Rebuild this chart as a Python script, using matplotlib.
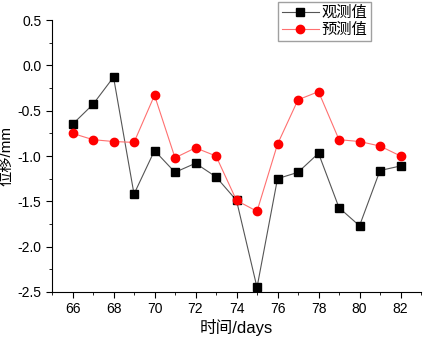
import matplotlib.pyplot as plt
from matplotlib.ticker import MultipleLocator

plt.rcParams['font.family'] = ['Liberation Sans', 'Noto Sans CJK SC']

days = [66, 67, 68, 69, 70, 71, 72, 73, 74, 75, 76, 77, 78, 79, 80, 81, 82]
observed = [-0.65, -0.43, -0.13, -1.42, -0.94, -1.18, -1.08, -1.23, -1.49,
            -2.45, -1.25, -1.18, -0.97, -1.57, -1.77, -1.16, -1.11]
predicted = [-0.75, -0.82, -0.84, -0.85, -0.33, -1.02, -0.91, -1.00, -1.49,
             -1.61, -0.87, -0.38, -0.29, -0.82, -0.84, -0.89, -1.00]

fig = plt.figure(figsize=(4.25, 3.41), dpi=100)
ax = fig.add_axes([0.1224, 0.1437, 0.8682, 0.7976])

ax.plot(days, observed, color='#555555', lw=0.8, marker='s', ms=5.5,
        mfc='black', mec='black', label='观测值')
ax.plot(days, predicted, color='#ff7070', lw=0.8, marker='o', ms=6,
        mfc='red', mec='red', label='预测值')

ax.set_xlim(65, 83)
ax.set_ylim(-2.5, 0.5)
ax.xaxis.set_major_locator(MultipleLocator(2))
ax.xaxis.set_minor_locator(MultipleLocator(1))
ax.yaxis.set_major_locator(MultipleLocator(0.5))
ax.yaxis.set_minor_locator(MultipleLocator(0.25))
ax.tick_params(which='major', direction='out', length=4, labelsize=10)
ax.tick_params(which='minor', direction='out', length=2)
ax.set_yticklabels([f'{v:.1f}' for v in ax.get_yticks()])

ax.spines['top'].set_visible(False)
ax.spines['right'].set_visible(False)

ax.set_xlabel('时间/days', fontsize=12, labelpad=2)
ax.set_ylabel('位移/mm', fontsize=11)
ax.yaxis.set_label_coords(-0.105, 0.5)

ax.legend(loc='upper right', bbox_to_anchor=(0.865, 1.066), fontsize=11,
          frameon=True, fancybox=False, edgecolor='#888888',
          handlelength=2.4, handletextpad=0.2, borderpad=0.25,
          labelspacing=0.2, borderaxespad=0)

fig.savefig('out.png', dpi=100)
